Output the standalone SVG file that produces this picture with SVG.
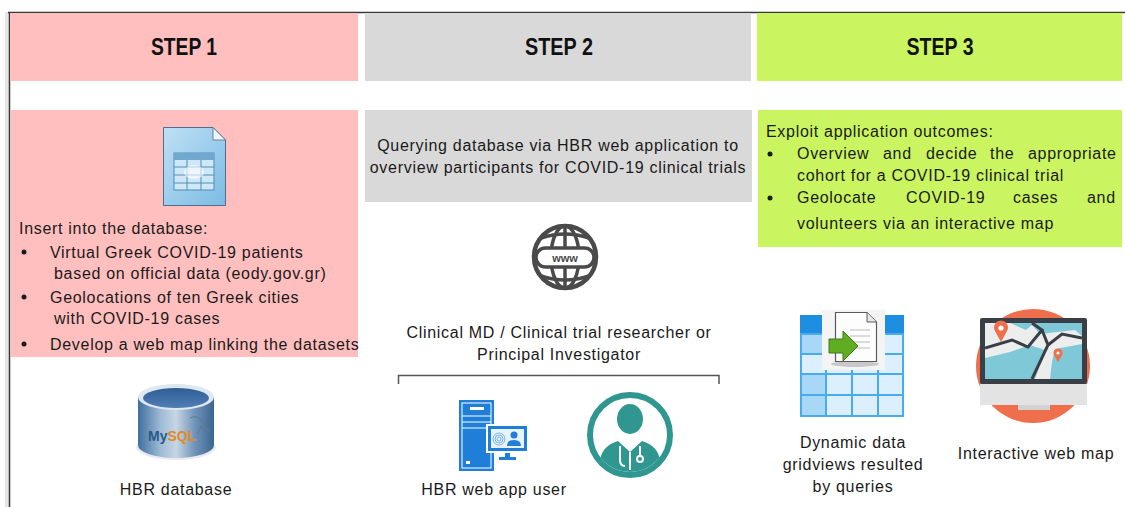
<svg xmlns="http://www.w3.org/2000/svg" width="1125" height="507" viewBox="0 0 1125 507">
  <style>
    .hdr { font-family: "Liberation Sans", Arial, sans-serif; font-weight: bold; font-size: 24px; fill: #111; text-anchor: middle; }
    .txt { font-family: "Liberation Sans", Arial, sans-serif; font-size: 16px; letter-spacing: 0.7px; fill: #1a1a1a; }
    .mid { text-anchor: middle; }
    .s1 { fill: #FFBFBF; }
    .s2 { fill: #D9D9D9; }
    .s3 { fill: #CBF560; }
    .blt { fill: #1a1a1a; }
  </style>
  <defs>
    <linearGradient id="docGrad" x1="0" y1="0" x2="1" y2="1">
      <stop offset="0" stop-color="#bfe0f5"/>
      <stop offset="1" stop-color="#7cbbe4"/>
    </linearGradient>
    <linearGradient id="cylGrad" x1="0" y1="0" x2="1" y2="0">
      <stop offset="0" stop-color="#3f6f9e"/>
      <stop offset="0.3" stop-color="#9fbbd6"/>
      <stop offset="0.5" stop-color="#c7d6e3"/>
      <stop offset="0.75" stop-color="#6f93b8"/>
      <stop offset="1" stop-color="#3a6590"/>
    </linearGradient>
    <linearGradient id="cylTop" x1="0" y1="0" x2="0" y2="1">
      <stop offset="0" stop-color="#2e5e95"/>
      <stop offset="1" stop-color="#4f7fb5"/>
    </linearGradient>
    <clipPath id="docClip">
      <circle cx="630" cy="435" r="37"/>
    </clipPath>
    <clipPath id="screenClip">
      <rect x="985" y="323" width="97" height="56"/>
    </clipPath>
  </defs>

  <!-- outer frame -->
  <rect x="5" y="12" width="4" height="495" fill="#e6e6e6"/>
  <line x1="8" y1="12.5" x2="1125" y2="12.5" stroke="#3a3a3a" stroke-width="1.5"/>
  <line x1="9.5" y1="12" x2="9.5" y2="507" stroke="#3a3a3a" stroke-width="1.5"/>

  <!-- step headers -->
  <g id="step1-header">
    <rect class="s1" x="10" y="13" width="348" height="68"/>
    <text class="hdr" x="184" y="55" textLength="66" lengthAdjust="spacingAndGlyphs">STEP 1</text>
  </g>
  <g id="step2-header">
    <rect class="s2" x="365" y="13" width="386" height="68"/>
    <text class="hdr" x="559" y="55" textLength="68" lengthAdjust="spacingAndGlyphs">STEP 2</text>
  </g>
  <g id="step3-header">
    <rect class="s3" x="757" y="13" width="365" height="68"/>
    <text class="hdr" x="940" y="55" textLength="67" lengthAdjust="spacingAndGlyphs">STEP 3</text>
  </g>

  <!-- step 1 panel -->
  <g id="step1-panel">
    <rect class="s1" x="11" y="110" width="347" height="247"/>
    <!-- table document icon -->
    <path d="M163.5,127.5 H213 L225.5,140 V205.5 H163.5 Z" fill="url(#docGrad)" stroke="#4d6e8c" stroke-width="1"/>
    <path d="M213,127.5 V140 H225.5 Z" fill="#eef6fc" stroke="#4d6e8c" stroke-width="0.8"/>
    <rect x="174" y="153" width="40" height="37" fill="#cfe8f7" stroke="#4f8db5" stroke-width="1"/>
    <rect x="174" y="153" width="40" height="7" fill="#6fa9cf"/>
    <g stroke="#4f8db5" stroke-width="1">
      <line x1="174" y1="167" x2="214" y2="167"/>
      <line x1="174" y1="175" x2="214" y2="175"/>
      <line x1="174" y1="183" x2="214" y2="183"/>
      <line x1="187" y1="160" x2="187" y2="190"/>
      <line x1="201" y1="160" x2="201" y2="190"/>
    </g>
    <ellipse cx="194" cy="172" rx="10" ry="7" fill="#ffffff" opacity="0.6"/>
    <text class="txt" x="19" y="234">Insert into the database:</text>
    <circle class="blt" cx="24" cy="252" r="2.5"/>
    <text class="txt" x="50" y="258">Virtual Greek COVID-19 patients</text>
    <text class="txt" x="54" y="279">based on official data (eody.gov.gr)</text>
    <circle class="blt" cx="24" cy="297" r="2.5"/>
    <text class="txt" x="50" y="303">Geolocations of ten Greek cities</text>
    <text class="txt" x="54" y="324">with COVID-19 cases</text>
    <circle class="blt" cx="24" cy="344" r="2.5"/>
    <text class="txt" x="50" y="350">Develop a web map linking the datasets</text>
  </g>

  <!-- HBR database (MySQL cylinder) -->
  <g id="hbr-database">
    <ellipse cx="176" cy="447" rx="40" ry="13" fill="#e9e9ef"/>
    <path d="M138,397 V445 A38,13 0 0 0 214,445 V397 Z" fill="url(#cylGrad)"/>
    <ellipse cx="176" cy="397" rx="38" ry="13" fill="#dfe7ef"/>
    <ellipse cx="176" cy="398" rx="33" ry="10" fill="url(#cylTop)"/>
    <path d="M190,418 q8,-4 12,4 q3,6 8,9 q-6,0 -9,-5 q-2,6 -4,8" fill="none" stroke="#5e7a94" stroke-width="1"/>
    <text x="148" y="441" font-family="'Liberation Sans', Arial, sans-serif" font-size="14" font-weight="bold" fill="#2a5a8a">My<tspan fill="#e38a1c">SQL</tspan></text>
    <text class="txt mid" x="176" y="495">HBR database</text>
  </g>

  <!-- step 2 panel -->
  <g id="step2-panel">
    <rect class="s2" x="365" y="110" width="387" height="92"/>
    <text class="txt mid" x="558" y="151">Querying database via HBR web application to</text>
    <text class="txt mid" x="558" y="173">overview participants for COVID-19 clinical trials</text>
  </g>

  <!-- web globe -->
  <g id="www-globe" fill="none" stroke="#4a4a4a">
    <circle cx="565" cy="257" r="31" stroke-width="4.5"/>
    <ellipse cx="565" cy="257" rx="14" ry="31" stroke-width="3.5"/>
    <line x1="565" y1="226" x2="565" y2="288" stroke-width="3.5"/>
    <path d="M541,238 Q565,230 589,238" stroke-width="3.5"/>
    <path d="M541,276 Q565,284 589,276" stroke-width="3.5"/>
    <rect x="536" y="248" width="58" height="19" rx="9.5" fill="#ffffff" stroke-width="3.5"/>
    <text x="565" y="262" text-anchor="middle" font-family="'Liberation Sans', Arial, sans-serif" font-size="11" font-weight="bold" fill="#4a4a4a" stroke="none">www</text>
  </g>

  <g id="user-role">
    <text class="txt mid" x="559" y="338">Clinical MD / Clinical trial researcher or</text>
    <text class="txt mid" x="559" y="360">Principal Investigator</text>
  </g>

  <!-- connectors: bracket grouping the two user kinds -->
  <g id="connectors" fill="none" stroke="#555" stroke-width="1.5">
    <path d="M398.5,384 V375.5 H719 V384"/>
  </g>

  <!-- HBR web app user (server + monitor) -->
  <g id="web-app-user">
    <rect x="459" y="400" width="35" height="71" fill="#1f7fd8"/>
    <rect x="462" y="403" width="29" height="65" fill="none" stroke="#ffffff" stroke-width="1"/>
    <rect x="470" y="407" width="14" height="3" fill="#ffffff"/>
    <line x1="462" y1="416" x2="491" y2="416" stroke="#ffffff" stroke-width="1"/>
    <line x1="462" y1="422" x2="491" y2="422" stroke="#ffffff" stroke-width="1"/>
    <line x1="462" y1="428" x2="491" y2="428" stroke="#ffffff" stroke-width="1"/>
    <rect x="466" y="461" width="4" height="3" fill="#ffffff"/>
    <rect x="486" y="424" width="43" height="29" fill="#ffffff"/>
    <rect x="488" y="426" width="39" height="25" fill="#1f7fd8"/>
    <rect x="491" y="429" width="33" height="19" fill="#e8f3fc"/>
    <g fill="none" stroke="#5aa3e3" stroke-width="0.8">
      <circle cx="499" cy="439" r="2"/>
      <circle cx="499" cy="439" r="4"/>
      <circle cx="499" cy="439" r="6"/>
    </g>
    <circle cx="514" cy="435" r="3.5" fill="#1f7fd8"/>
    <path d="M507,446 Q507,440 514,440 Q521,440 521,446 Z" fill="#1f7fd8"/>
    <rect x="505" y="453" width="5" height="5" fill="#1f7fd8"/>
    <rect x="499" y="457" width="17" height="3" fill="#1f7fd8"/>
    <text class="txt mid" x="494" y="495">HBR web app user</text>
  </g>

  <!-- clinician avatar -->
  <g id="clinician">
    <circle cx="630" cy="435" r="40" fill="#ffffff" stroke="#2f9790" stroke-width="6"/>
    <g clip-path="url(#docClip)" fill="#2f9790">
      <ellipse cx="630" cy="419" rx="13" ry="15"/>
      <path d="M600,480 V462 Q601,446 618,441 L630,452 L642,441 Q659,446 660,462 V480 Z"/>
    </g>
    <g fill="none" stroke="#ffffff" stroke-width="2">
      <path d="M620,446 V460 Q620,466 625,466"/>
      <path d="M640,446 V456"/>
      <circle cx="640" cy="459" r="3"/>
      <path d="M630,452 V470"/>
    </g>
  </g>

  <!-- step 3 panel -->
  <g id="step3-panel">
    <rect class="s3" x="758" y="110" width="364" height="137"/>
    <text class="txt" x="766" y="137">Exploit application outcomes:</text>
    <circle class="blt" cx="770" cy="154" r="2.5"/>
    <text class="txt" y="159"><tspan x="797">Overview</tspan><tspan x="883">and</tspan><tspan x="926">decide</tspan><tspan x="990">the</tspan><tspan x="1028">appropriate</tspan></text>
    <text class="txt" x="797" y="181">cohort for a COVID-19 clinical trial</text>
    <circle class="blt" cx="770" cy="198" r="2.5"/>
    <text class="txt" y="203"><tspan x="797">Geolocate</tspan><tspan x="906">COVID-19</tspan><tspan x="1013">cases</tspan><tspan x="1087">and</tspan></text>
    <text class="txt" x="797" y="229">volunteers via an interactive map</text>
  </g>

  <!-- dynamic data gridviews -->
  <g id="gridviews">
    <rect x="800" y="315" width="104" height="102" fill="#47acee"/>
    <rect x="800" y="315" width="104" height="18" fill="#1d8ee0"/>
    <g fill="#dcefff">
      <rect x="802" y="335" width="23" height="18"/>
      <rect x="827" y="335" width="24" height="18"/>
      <rect x="853" y="335" width="24" height="18"/>
      <rect x="879" y="335" width="23" height="18"/>
      <rect x="802" y="355" width="23" height="18"/>
      <rect x="827" y="355" width="24" height="18"/>
      <rect x="853" y="355" width="24" height="18"/>
      <rect x="879" y="355" width="23" height="18"/>
      <rect x="802" y="375" width="23" height="19"/>
      <rect x="827" y="375" width="24" height="19"/>
      <rect x="853" y="375" width="24" height="19"/>
      <rect x="879" y="375" width="23" height="19"/>
      <rect x="802" y="396" width="23" height="19"/>
      <rect x="827" y="396" width="24" height="19"/>
      <rect x="853" y="396" width="24" height="19"/>
      <rect x="879" y="396" width="23" height="19"/>
    </g>
    <g fill="#a9d7f6">
      <rect x="802" y="335" width="23" height="18"/>
      <rect x="802" y="375" width="23" height="19"/>
      <rect x="802" y="396" width="23" height="19"/>
    </g>
    <!-- import document overlay -->
    <rect x="822" y="310" width="63" height="60" fill="#f4f4f4"/>
    <ellipse cx="855" cy="364" rx="24" ry="3" fill="#c8c8c8"/>
    <path d="M835.5,312.5 H867 L876.5,322 V361.5 H835.5 Z" fill="#fdfdfd" stroke="#5a5a5a" stroke-width="1.2"/>
    <path d="M867,312.5 V322 H876.5" fill="#e6e6e6" stroke="#5a5a5a" stroke-width="1"/>
    <g stroke="#b9b9b9" stroke-width="1">
      <line x1="850" y1="330" x2="870" y2="330"/>
      <line x1="850" y1="336" x2="870" y2="336"/>
      <line x1="852" y1="342" x2="870" y2="342"/>
      <line x1="852" y1="348" x2="870" y2="348"/>
    </g>
    <path d="M829,339 H843 V331 L858,346 L843,361 V353 H829 Z" fill="#5fae22" stroke="#3d7a14" stroke-width="1"/>
    <text class="txt mid" x="853" y="448">Dynamic data</text>
    <text class="txt mid" x="853" y="470">gridviews resulted</text>
    <text class="txt mid" x="853" y="492">by queries</text>
  </g>

  <!-- interactive web map -->
  <g id="web-map">
    <circle cx="1033" cy="366" r="57" fill="#ef6e4c"/>
    <rect x="980" y="318" width="107" height="66" rx="2" fill="#3a3f47"/>
    <rect x="985" y="323" width="97" height="56" fill="#eceeee"/>
    <g clip-path="url(#screenClip)">
      <path d="M985,358 L1010,352 L1030,345 L1045,350 L1035,379 L985,379 Z" fill="#7ec8d8"/>
      <path d="M1030,323 L1040,334 L1075,330 L1082,336 V323 Z" fill="#7ec8d8"/>
      <path d="M1055,349 L1082,344 V379 L1050,379 L1052,362 Z" fill="#7ec8d8"/>
      <path d="M1010,323 L1026,330 L1034,323 Z" fill="#7ec8d8"/>
      <g fill="none" stroke="#3a3f47" stroke-width="3">
        <path d="M985,348 L1012,340 L1028,347 L1042,330 L1032,323"/>
        <path d="M1042,330 L1048,345 L1032,379"/>
        <path d="M1048,345 L1062,334 L1082,338"/>
      </g>
    </g>
    <path d="M1001,342 L995,331 A7,7 0 1 1 1007,331 Z" fill="#ef6e4c"/>
    <circle cx="1001" cy="328" r="2.6" fill="#ffffff"/>
    <path d="M1058,362 L1054,355 A4.5,4.5 0 1 1 1062,355 Z" fill="#ef6e4c"/>
    <circle cx="1058" cy="353" r="1.6" fill="#ffffff"/>
    <rect x="980" y="384" width="107" height="21" fill="#e3e3e3"/>
    <rect x="1018" y="405" width="32" height="5" fill="#d2d2d2"/>
    <text class="txt mid" x="1036" y="459">Interactive web map</text>
  </g>
</svg>
